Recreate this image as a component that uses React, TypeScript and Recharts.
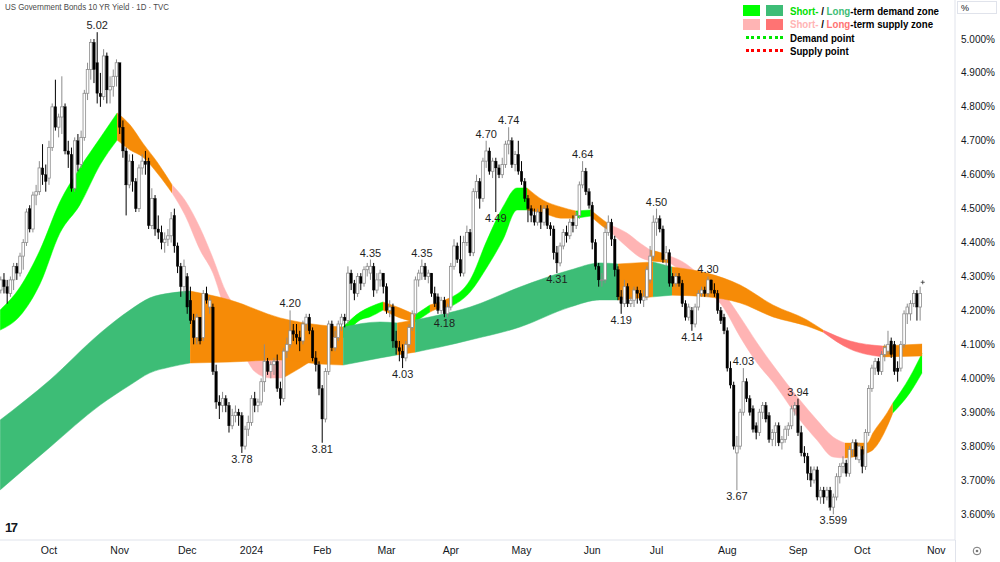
import { ComposedChart, Bar, Area, Scatter, XAxis, YAxis } from 'recharts'

const FONT = '"Liberation Sans", Arial, sans-serif'

// daily candles [open, high, low, close], one list per month
const sep23 = [
  [4.26, 4.30, 4.25, 4.29], [4.29, 4.31, 4.25, 4.27], [4.27, 4.29, 4.22, 4.25], [4.25, 4.30, 4.24, 4.29],
  [4.29, 4.34, 4.26, 4.33], [4.33, 4.34, 4.29, 4.31], [4.31, 4.37, 4.30, 4.36], [4.36, 4.41, 4.32, 4.40],
  [4.40, 4.50, 4.39, 4.49], [4.50, 4.51, 4.43, 4.44], [4.44, 4.55, 4.43, 4.54], [4.54, 4.57, 4.51, 4.55],
  [4.55, 4.64, 4.54, 4.62], [4.62, 4.69, 4.57, 4.60], [4.60, 4.63, 4.55, 4.58],
]
const oct23 = [
  [4.59, 4.70, 4.57, 4.68], [4.68, 4.81, 4.67, 4.80], [4.80, 4.88, 4.73, 4.74], [4.74, 4.78, 4.71, 4.77],
  [4.77, 4.89, 4.72, 4.80], [4.80, 4.81, 4.66, 4.67], [4.67, 4.70, 4.62, 4.66], [4.66, 4.68, 4.55, 4.56],
  [4.56, 4.71, 4.55, 4.70], [4.70, 4.72, 4.61, 4.63], [4.63, 4.73, 4.62, 4.71], [4.71, 4.85, 4.70, 4.84],
  [4.84, 4.93, 4.82, 4.91], [4.91, 5.00, 4.88, 4.99], [4.99, 5.00, 4.87, 4.91], [4.93, 5.02, 4.81, 4.84],
  [4.84, 4.90, 4.80, 4.83], [4.83, 4.97, 4.82, 4.95], [4.95, 4.96, 4.81, 4.85], [4.85, 4.89, 4.81, 4.86],
  [4.86, 4.91, 4.83, 4.89], [4.89, 4.94, 4.86, 4.93],
]
const nov23 = [
  [4.93, 4.93, 4.72, 4.74], [4.74, 4.76, 4.65, 4.67], [4.67, 4.68, 4.48, 4.57], [4.57, 4.66, 4.56, 4.64],
  [4.64, 4.66, 4.55, 4.58], [4.58, 4.59, 4.49, 4.50], [4.50, 4.63, 4.49, 4.62], [4.62, 4.66, 4.60, 4.64],
  [4.64, 4.67, 4.60, 4.63], [4.64, 4.65, 4.44, 4.45], [4.45, 4.56, 4.44, 4.53], [4.53, 4.54, 4.42, 4.44],
  [4.44, 4.48, 4.41, 4.43], [4.43, 4.45, 4.38, 4.40], [4.40, 4.43, 4.37, 4.41], [4.41, 4.44, 4.39, 4.42],
  [4.42, 4.49, 4.40, 4.47], [4.48, 4.50, 4.37, 4.39], [4.39, 4.40, 4.31, 4.33], [4.33, 4.34, 4.24, 4.27],
  [4.27, 4.35, 4.25, 4.33],
]
const dec23 = [
  [4.30, 4.31, 4.19, 4.21], [4.23, 4.27, 4.16, 4.17], [4.17, 4.19, 4.10, 4.12], [4.12, 4.19, 4.10, 4.18],
  [4.18, 4.18, 4.10, 4.11], [4.12, 4.26, 4.11, 4.25], [4.25, 4.27, 4.22, 4.23], [4.21, 4.24, 4.19, 4.23],
  [4.21, 4.22, 4.01, 4.02], [4.02, 4.04, 3.91, 3.93], [3.93, 3.95, 3.88, 3.92], [3.92, 3.96, 3.90, 3.94],
  [3.94, 3.95, 3.90, 3.92], [3.92, 3.93, 3.84, 3.86], [3.86, 3.91, 3.85, 3.89], [3.89, 3.92, 3.87, 3.90],
  [3.90, 3.91, 3.86, 3.89], [3.89, 3.90, 3.78, 3.80], [3.80, 3.86, 3.79, 3.85], [3.85, 3.89, 3.83, 3.87],
]
const jan24 = [
  [3.87, 3.95, 3.86, 3.94], [3.94, 3.96, 3.90, 3.92], [3.92, 3.94, 3.90, 3.93], [3.93, 4.00, 3.92, 3.99],
  [3.99, 4.10, 3.96, 4.05], [4.05, 4.06, 4.01, 4.02], [4.02, 4.05, 4.00, 4.04], [4.04, 4.06, 4.01, 4.05],
  [4.05, 4.07, 3.96, 3.97], [3.97, 3.99, 3.92, 3.94], [3.94, 4.09, 3.93, 4.08], [4.08, 4.12, 4.06, 4.10],
  [4.10, 4.20, 4.09, 4.14], [4.14, 4.16, 4.11, 4.13], [4.13, 4.16, 4.10, 4.12], [4.12, 4.14, 4.08, 4.11],
  [4.11, 4.17, 4.10, 4.16], [4.16, 4.19, 4.14, 4.18], [4.18, 4.19, 4.13, 4.14], [4.14, 4.15, 4.05, 4.06],
  [4.06, 4.08, 4.02, 4.04], [4.04, 4.05, 3.95, 3.97],
]
const feb24 = [
  [3.97, 3.98, 3.81, 3.88], [3.88, 4.03, 3.87, 4.02], [4.02, 4.17, 4.01, 4.16], [4.16, 4.17, 4.08, 4.09],
  [4.09, 4.14, 4.08, 4.12], [4.12, 4.17, 4.11, 4.16], [4.16, 4.19, 4.14, 4.18], [4.18, 4.19, 4.15, 4.17],
  [4.17, 4.33, 4.16, 4.31], [4.31, 4.32, 4.26, 4.28], [4.28, 4.29, 4.23, 4.25], [4.25, 4.31, 4.24, 4.30],
  [4.30, 4.31, 4.26, 4.28], [4.28, 4.33, 4.27, 4.32], [4.32, 4.34, 4.30, 4.33], [4.31, 4.35, 4.29, 4.33],
  [4.33, 4.34, 4.24, 4.26], [4.26, 4.31, 4.25, 4.29], [4.29, 4.32, 4.27, 4.31], [4.31, 4.31, 4.25, 4.27],
]
const mar24 = [
  [4.27, 4.28, 4.19, 4.20], [4.20, 4.23, 4.18, 4.21], [4.21, 4.22, 4.09, 4.11], [4.11, 4.14, 4.07, 4.09],
  [4.09, 4.11, 4.05, 4.08], [4.08, 4.10, 4.03, 4.06], [4.06, 4.11, 4.05, 4.10], [4.10, 4.16, 4.09, 4.15],
  [4.15, 4.20, 4.14, 4.19], [4.19, 4.30, 4.18, 4.29], [4.29, 4.32, 4.27, 4.31], [4.31, 4.35, 4.29, 4.33],
  [4.33, 4.34, 4.29, 4.30], [4.30, 4.32, 4.28, 4.31], [4.31, 4.31, 4.24, 4.25], [4.25, 4.27, 4.21, 4.22],
  [4.24, 4.25, 4.19, 4.20], [4.20, 4.24, 4.19, 4.23], [4.23, 4.24, 4.18, 4.19], [4.19, 4.22, 4.18, 4.21],
]
const apr24 = [
  [4.21, 4.34, 4.20, 4.33], [4.33, 4.41, 4.32, 4.39], [4.39, 4.40, 4.34, 4.35], [4.35, 4.42, 4.30, 4.31],
  [4.31, 4.42, 4.30, 4.40], [4.40, 4.45, 4.39, 4.43], [4.43, 4.44, 4.36, 4.37], [4.37, 4.56, 4.36, 4.55],
  [4.55, 4.60, 4.53, 4.58], [4.58, 4.59, 4.50, 4.53], [4.53, 4.65, 4.52, 4.64], [4.64, 4.70, 4.62, 4.67],
  [4.67, 4.68, 4.60, 4.61], [4.61, 4.65, 4.59, 4.64], [4.64, 4.65, 4.49, 4.62], [4.62, 4.63, 4.59, 4.60],
  [4.60, 4.65, 4.59, 4.63], [4.63, 4.70, 4.62, 4.69], [4.69, 4.74, 4.66, 4.70], [4.70, 4.71, 4.62, 4.63],
  [4.63, 4.67, 4.61, 4.66], [4.66, 4.70, 4.60, 4.61],
]
const may24 = [
  [4.61, 4.64, 4.57, 4.58], [4.58, 4.59, 4.52, 4.53], [4.53, 4.54, 4.46, 4.50], [4.50, 4.51, 4.46, 4.48],
  [4.48, 4.50, 4.45, 4.46], [4.46, 4.50, 4.45, 4.49], [4.49, 4.51, 4.44, 4.46], [4.46, 4.51, 4.45, 4.50],
  [4.50, 4.51, 4.44, 4.45], [4.45, 4.46, 4.42, 4.44], [4.44, 4.45, 4.35, 4.37], [4.37, 4.39, 4.31, 4.34],
  [4.34, 4.40, 4.33, 4.39], [4.39, 4.44, 4.38, 4.43], [4.43, 4.45, 4.40, 4.42], [4.42, 4.47, 4.41, 4.46],
  [4.46, 4.48, 4.43, 4.45], [4.45, 4.49, 4.44, 4.48], [4.48, 4.58, 4.47, 4.57], [4.57, 4.64, 4.56, 4.61],
  [4.61, 4.62, 4.54, 4.55], [4.55, 4.56, 4.50, 4.51],
]
const jun24 = [
  [4.51, 4.52, 4.38, 4.40], [4.40, 4.41, 4.32, 4.33], [4.33, 4.34, 4.27, 4.29], [4.29, 4.31, 4.27, 4.29],
  [4.29, 4.45, 4.28, 4.43], [4.43, 4.48, 4.42, 4.46], [4.46, 4.47, 4.39, 4.41], [4.41, 4.42, 4.30, 4.32],
  [4.32, 4.33, 4.23, 4.24], [4.24, 4.26, 4.19, 4.22], [4.22, 4.29, 4.21, 4.27], [4.27, 4.28, 4.21, 4.22],
  [4.22, 4.24, 4.21, 4.23], [4.23, 4.27, 4.21, 4.26], [4.26, 4.27, 4.22, 4.25], [4.25, 4.26, 4.22, 4.23],
  [4.23, 4.26, 4.21, 4.24], [4.24, 4.33, 4.23, 4.32], [4.29, 4.39, 4.28, 4.36], [4.36, 4.48, 4.35, 4.46],
]
const jul24 = [
  [4.46, 4.50, 4.42, 4.47], [4.47, 4.48, 4.43, 4.44], [4.44, 4.45, 4.34, 4.35], [4.35, 4.39, 4.33, 4.37],
  [4.37, 4.38, 4.27, 4.28], [4.30, 4.31, 4.27, 4.28], [4.28, 4.31, 4.27, 4.30], [4.30, 4.31, 4.27, 4.28],
  [4.28, 4.29, 4.21, 4.22], [4.22, 4.23, 4.17, 4.18], [4.18, 4.22, 4.17, 4.21], [4.20, 4.21, 4.14, 4.16],
  [4.16, 4.22, 4.15, 4.21], [4.21, 4.26, 4.20, 4.25], [4.25, 4.27, 4.24, 4.26], [4.26, 4.27, 4.24, 4.25],
  [4.25, 4.30, 4.24, 4.29], [4.29, 4.29, 4.25, 4.26], [4.26, 4.28, 4.24, 4.25], [4.25, 4.26, 4.19, 4.20],
  [4.20, 4.21, 4.16, 4.17], [4.18, 4.19, 4.13, 4.14],
]
const aug24 = [
  [4.14, 4.15, 4.02, 4.03], [4.03, 4.05, 3.97, 3.98], [3.98, 3.99, 3.79, 3.80], [3.78, 3.83, 3.67, 3.80],
  [3.80, 3.91, 3.79, 3.90], [3.90, 4.03, 3.89, 3.99], [3.99, 4.00, 3.93, 3.94], [3.94, 3.95, 3.89, 3.90],
  [3.91, 3.92, 3.84, 3.85], [3.86, 3.87, 3.82, 3.84], [3.84, 3.91, 3.83, 3.90], [3.90, 3.93, 3.88, 3.92],
  [3.92, 3.93, 3.87, 3.88], [3.89, 3.90, 3.81, 3.82], [3.82, 3.85, 3.80, 3.84], [3.84, 3.87, 3.80, 3.86],
  [3.86, 3.87, 3.80, 3.81], [3.81, 3.83, 3.79, 3.82], [3.82, 3.86, 3.81, 3.85], [3.85, 3.87, 3.83, 3.86],
  [3.86, 3.92, 3.85, 3.91], [3.91, 3.93, 3.89, 3.92],
]
const sep24 = [
  [3.92, 3.94, 3.83, 3.84], [3.84, 3.86, 3.77, 3.78], [3.78, 3.80, 3.75, 3.77], [3.77, 3.78, 3.70, 3.72],
  [3.72, 3.74, 3.68, 3.70], [3.70, 3.74, 3.69, 3.73], [3.73, 3.74, 3.64, 3.65], [3.65, 3.68, 3.63, 3.67],
  [3.67, 3.68, 3.63, 3.65], [3.65, 3.68, 3.64, 3.67], [3.67, 3.68, 3.61, 3.62], [3.62, 3.66, 3.599, 3.65],
  [3.65, 3.72, 3.64, 3.71], [3.71, 3.75, 3.69, 3.74], [3.74, 3.77, 3.72, 3.75], [3.75, 3.76, 3.71, 3.72],
  [3.72, 3.80, 3.71, 3.79], [3.79, 3.82, 3.77, 3.81], [3.81, 3.82, 3.76, 3.77], [3.76, 3.81, 3.75, 3.80],
]
const oct24 = [
  [3.79, 3.80, 3.72, 3.74], [3.74, 3.85, 3.73, 3.84], [3.84, 3.98, 3.83, 3.97], [3.97, 4.04, 3.96, 4.03],
  [4.03, 4.06, 4.01, 4.05], [4.05, 4.06, 4.01, 4.02], [4.02, 4.08, 4.01, 4.07], [4.07, 4.10, 4.05, 4.09],
  [4.08, 4.14, 4.07, 4.10], [4.11, 4.12, 4.06, 4.07], [4.10, 4.11, 4.01, 4.02], [4.03, 4.05, 3.99, 4.02],
  [4.03, 4.11, 4.02, 4.10], [4.10, 4.20, 4.09, 4.19], [4.19, 4.22, 4.16, 4.21], [4.19, 4.23, 4.17, 4.22],
  [4.22, 4.26, 4.21, 4.25], [4.25, 4.26, 4.17, 4.21], [4.21, 4.27, 4.17, 4.25],
]

const candles = [sep23, oct23, nov23, dec23, jan24, feb24, mar24, apr24, may24, jun24, jul24, aug24, sep24, oct24]
  .flat()
  .map((c, i) => ({ x: i, o: c[0], h: c[1], l: c[2], c: c[3] }))

// first bar of each month
const monthTicks = [15, 37, 58, 78, 100, 120, 140, 162, 184, 204, 226, 248, 268, 291]
const monthLabels = ['Oct', 'Nov', 'Dec', '2024', 'Feb', 'Mar', 'Apr', 'May', 'Jun', 'Jul', 'Aug', 'Sep', 'Oct', 'Nov']

const yTicks = [3.6, 3.7, 3.8, 3.9, 4.0, 4.1, 4.2, 4.3, 4.4, 4.5, 4.6, 4.7, 4.8, 4.9, 5.0]

// swing labels: bar index, high or low, text
const swingIdx = [30, 75, 90, 100, 115, 125, 131, 138, 151, 154, 158, 173, 181, 193, 204, 215, 220, 229, 231, 248, 259]
const swingSide = ['h', 'l', 'h', 'l', 'h', 'l', 'h', 'l', 'h', 'l', 'h', 'l', 'h', 'l', 'h', 'l', 'h', 'l', 'h', 'h', 'l']
const swingText = ['5.02', '3.78', '4.20', '3.81', '4.35', '4.03', '4.35', '4.18', '4.70', '4.49', '4.74', '4.31', '4.64', '4.19', '4.50', '4.14', '4.30', '3.67', '4.03', '3.94', '3.599']

// short-term zone (two fast averages); zone code = colour of the stretch starting at that point
const shortIdx = [-0.2, 6, 12.2, 18.4, 24.6, 30.9, 36.2, 40.2, 44.2, 48.9, 53.3, 57.3, 62, 66, 69.8, 74.4, 79.1, 83.8, 87.8, 93.1, 99.3,
  106.5, 111.8, 114.8, 118.9, 124.2, 128.9, 133.5, 136.6, 139.8, 146, 151.3, 156.2, 160.6, 163.7, 168.7, 174.2, 178.9, 183.5,
  187.5, 189.5, 194.8, 198.8, 202, 205.7, 208.2, 212.2, 217.5, 224.7, 230, 235.3, 240.2, 248.6, 253.9, 258.9, 262.6, 269.5,
  271.3, 275.7, 277.5, 282.8, 286.6]
const shortHi = [4.201, 4.269, 4.378, 4.52, 4.62, 4.708, 4.782, 4.747, 4.693, 4.634, 4.57, 4.525, 4.443, 4.354, 4.26, 4.187, 4.098,
  4.069, 4.078, 4.098, 4.119, 4.151, 4.195, 4.21, 4.225, 4.207, 4.187, 4.216, 4.225, 4.237, 4.29, 4.408, 4.505, 4.561, 4.561,
  4.525, 4.505, 4.493, 4.496, 4.466, 4.452, 4.428, 4.399, 4.378, 4.369, 4.36, 4.343, 4.305, 4.251, 4.181, 4.104, 4.039, 3.936,
  3.877, 3.827, 3.809, 3.809, 3.839, 3.898, 3.927, 4.004, 4.074]
const shortLo = [4.142, 4.184, 4.278, 4.428, 4.511, 4.629, 4.702, 4.673, 4.652, 4.602, 4.546, 4.481, 4.378, 4.31, 4.201, 4.098, 4.019,
  4.001, 4.001, 4.03, 4.069, 4.119, 4.172, 4.181, 4.201, 4.178, 4.166, 4.195, 4.207, 4.21, 4.254, 4.328, 4.408, 4.496, 4.496,
  4.487, 4.472, 4.472, 4.478, 4.446, 4.434, 4.387, 4.357, 4.346, 4.343, 4.34, 4.313, 4.275, 4.21, 4.122, 4.045, 3.989, 3.877,
  3.818, 3.768, 3.765, 3.78, 3.789, 3.857, 3.898, 3.957, 4.016]
const shortZone = 'DDDDDDNNNNSSSSSSSSNNNDDDNNDNNDDDDDNNNDNNSSSNNSSSSSSSSSSNNNNDDD'

// long-term zone (two slow averages)
const longIdx = [-0.2, 15.3, 30.9, 40.2, 46.4, 52.6, 58.9, 71.3, 86.9, 99.3, 106.5, 118, 123.3, 128.9, 136.6, 146, 161.5, 177.1,
  186.4, 192, 202.9, 208.8, 219.7, 230, 240.2, 250.8, 255.8, 264.2, 274.4, 286.6]
const longHi = [3.877, 3.995, 4.133, 4.201, 4.237, 4.251, 4.257, 4.231, 4.178, 4.157, 4.151, 4.166, 4.163, 4.172, 4.187, 4.21,
  4.269, 4.319, 4.34, 4.337, 4.343, 4.328, 4.31, 4.275, 4.216, 4.172, 4.142, 4.11, 4.095, 4.101]
const longLo = [3.671, 3.797, 3.921, 3.98, 4.016, 4.033, 4.045, 4.048, 4.054, 4.042, 4.039, 4.06, 4.069, 4.077, 4.092, 4.113,
  4.151, 4.21, 4.231, 4.231, 4.24, 4.245, 4.24, 4.222, 4.181, 4.154, 4.136, 4.086, 4.063, 4.066]
const longZone = 'DDDDDDNNNNDDNDDDDDDNDNNNNNSSNN'

const shortFill: Record<string, string> = { D: '#00ff00', N: '#f68b07', S: '#ffb4b4' }
const longFill: Record<string, string> = { D: '#3dbd76', N: '#f68b07', S: '#ff7373' }

const lastMark = [{ x: 286.8, y: 4.283 }]

function toRuns(xs: number[], hi: number[], lo: number[], zone: string) {
  const out: { zone: string; pts: { x: number; r: number[] }[] }[] = []
  let start = 0
  for (let k = 1; k < xs.length; k++) {
    if (zone[k] !== zone[start] || k === xs.length - 1) {
      const pts = []
      for (let j = start; j <= k; j++) pts.push({ x: xs[j], r: [lo[j], hi[j]] })
      out.push({ zone: zone[start], pts })
      start = k
    }
  }
  return out
}

const shortRuns = toRuns(shortIdx, shortHi, shortLo, shortZone)
const longRuns = toRuns(longIdx, longHi, longLo, longZone)

const swings = swingIdx.map((i, k) => ({
  x: i,
  y: swingSide[k] === 'h' ? candles[i].h : candles[i].l,
  t: swingText[k],
  s: swingSide[k],
}))

function Candle(p: any) {
  const { x, y, width, height, payload } = p
  if (x == null || y == null || !payload) return null
  const { o, h, l, c } = payload
  const span = h - l || 1
  const py = (v: number) => y + ((h - v) / span) * height
  const cx = x + width / 2
  const up = c >= o
  const top = py(Math.max(o, c))
  const bot = py(Math.min(o, c))
  const col = up ? '#8c8c8c' : '#000000'
  return (
    <g>
      <line x1={cx} x2={cx} y1={y} y2={y + height} stroke={col} strokeWidth={1} />
      <rect
        x={cx - 1.3}
        y={top}
        width={2.6}
        height={Math.max(bot - top, 0.8)}
        fill={up ? '#ffffff' : '#000000'}
        stroke={col}
        strokeWidth={up ? 0.8 : 0.3}
      />
    </g>
  )
}

function SwingLabel(p: any) {
  const { cx, cy, payload } = p
  if (cx == null || cy == null) return null
  return (
    <text
      x={cx}
      y={payload.s === 'h' ? cy - 3 : cy + 10}
      textAnchor="middle"
      fontSize={11}
      fontFamily={FONT}
      fill="#1e1e1e"
    >
      {payload.t}
    </text>
  )
}

function Cross(p: any) {
  const { cx, cy } = p
  if (cx == null || cy == null) return null
  return (
    <g stroke="#333" strokeWidth={0.8}>
      <line x1={cx - 2} x2={cx + 2} y1={cy} y2={cy} />
      <line x1={cx} x2={cx} y1={cy - 2} y2={cy + 2} />
    </g>
  )
}

const squeeze = (s: number): any => ({ display: 'inline-block', transform: `scaleX(${s})`, transformOrigin: 'left center', whiteSpace: 'nowrap' })

function Legend() {
  const row: any = { position: 'absolute', left: 790, fontFamily: FONT, fontWeight: 700, fontSize: 11, color: '#000', lineHeight: '12px' }
  const box = (left: number, top: number, bg: string): any => ({ position: 'absolute', left, top, width: 17, height: 11, background: bg })
  const dots = (top: number, c: string): any => ({ position: 'absolute', left: 746, top, width: 37, borderTop: `3px dotted ${c}` })
  return (
    <>
      <div style={box(743, 5, '#00ff00')} />
      <div style={box(766, 5, '#3dbd76')} />
      <div style={{ ...row, top: 5 }}>
        <span style={squeeze(0.88)}>
          <span style={{ color: '#00e000' }}>Short-</span> / <span style={{ color: '#3dbd76' }}>Long</span>-term demand zone
        </span>
      </div>
      <div style={box(743, 19, '#ffb4b4')} />
      <div style={box(766, 19, '#ff7373')} />
      <div style={{ ...row, top: 18 }}>
        <span style={squeeze(0.88)}>
          <span style={{ color: '#ffb4b4' }}>Short-</span> / <span style={{ color: '#ff7373' }}>Long</span>-term supply zone
        </span>
      </div>
      <div style={dots(36, '#00e600')} />
      <div style={{ ...row, top: 32 }}>
        <span style={squeeze(0.88)}>Demand point</span>
      </div>
      <div style={dots(49, '#ff0000')} />
      <div style={{ ...row, top: 45 }}>
        <span style={squeeze(0.88)}>Supply point</span>
      </div>
    </>
  )
}

export default function App() {
  return (
    <div style={{ position: 'fixed', left: 0, top: 0, width: 1000, height: 562, background: '#fff', overflow: 'hidden' }}>
      <ComposedChart width={1000} height={562} data={candles} margin={{ top: 0, right: 0, bottom: 0, left: 0 }}>
        <XAxis
          dataKey="x"
          type="number"
          domain={[-0.24, 296.84]}
          allowDataOverflow
          ticks={monthTicks}
          interval={0}
          tickFormatter={(v: number) => monthLabels[monthTicks.indexOf(v)]}
          tick={{ fontSize: 10.5, fill: '#131722', fontFamily: FONT }}
          tickLine={false}
          tickSize={0}
          tickMargin={7}
          axisLine={{ stroke: '#e0e3eb' }}
          height={22}
        />
        <YAxis
          orientation="right"
          type="number"
          domain={[3.5234, 5.1149]}
          allowDataOverflow
          ticks={yTicks}
          interval={0}
          tickFormatter={(v: number) => v.toFixed(3) + '%'}
          tick={{ fontSize: 10, fill: '#131722', fontFamily: FONT }}
          tickLine={false}
          tickSize={0}
          tickMargin={6}
          axisLine={{ stroke: '#e0e3eb' }}
          width={45}
        />
        {shortRuns.map((r, k) => (
          <Area
            key={'s' + k}
            data={r.pts}
            dataKey="r"
            type="monotone"
            fill={shortFill[r.zone]}
            fillOpacity={1}
            stroke={shortFill[r.zone]}
            strokeWidth={0.5}
            dot={false}
            activeDot={false}
            isAnimationActive={false}
          />
        ))}
        {longRuns.map((r, k) => (
          <Area
            key={'l' + k}
            data={r.pts}
            dataKey="r"
            type="monotone"
            fill={longFill[r.zone]}
            fillOpacity={1}
            stroke={longFill[r.zone]}
            strokeWidth={0.5}
            dot={false}
            activeDot={false}
            isAnimationActive={false}
          />
        ))}
        <Bar dataKey={(d: any) => [d.l, d.h]} barSize={3} shape={(p: any) => <Candle {...p} />} isAnimationActive={false} />
        <Scatter data={swings} dataKey="y" shape={(p: any) => <SwingLabel {...p} />} isAnimationActive={false} />
        <Scatter data={lastMark} dataKey="y" shape={(p: any) => <Cross {...p} />} isAnimationActive={false} />
      </ComposedChart>

      <div style={{ position: 'absolute', left: 5, top: 1, fontFamily: FONT, fontSize: 9.5, color: '#4a4a4a' }}>
        <span style={squeeze(0.83)}>US Government Bonds 10 YR Yield · 1D · TVC</span>
      </div>
      <Legend />
      <div
        style={{
          position: 'absolute', left: 957, top: 1, width: 40, height: 13, border: '1px solid #e0e3eb',
          fontFamily: FONT, fontSize: 9, color: '#131722', lineHeight: '13px', paddingLeft: 3, boxSizing: 'border-box',
        }}
      >
        %
      </div>
      <div style={{ position: 'absolute', left: 955, top: 540, width: 1, height: 22, background: '#e0e3eb' }} />
      <div style={{ position: 'absolute', left: 5, top: 520, fontFamily: FONT, fontWeight: 900, fontSize: 13, color: '#131722', letterSpacing: -1.5 }}>
        17
      </div>
      <svg style={{ position: 'absolute', left: 972, top: 546 }} width={10} height={10}>
        <circle cx={5} cy={5} r={3.8} fill="none" stroke="#777" strokeWidth={1} />
        <circle cx={5} cy={5} r={1.3} fill="#777" />
      </svg>
    </div>
  )
}
